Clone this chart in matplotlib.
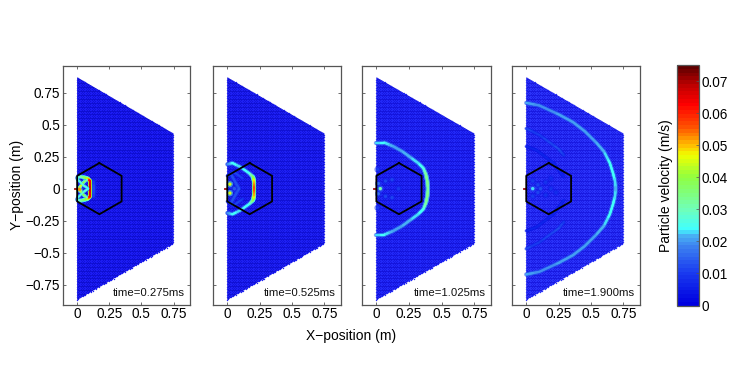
import numpy as np
import matplotlib
matplotlib.use("Agg")
import matplotlib.pyplot as plt
from matplotlib.collections import LineCollection
from matplotlib.colors import LinearSegmentedColormap, Normalize
from matplotlib.cm import ScalarMappable

plt.rcParams["font.family"] = ["Liberation Sans", "DejaVu Sans"]

W, H = 747, 386
GRAY = "#555555"

# plate outline and the hexagon inclusion (m)
plate_x = [0, 0.75, 0.75, 0, 0]
plate_y = [0.87, 0.43, -0.43, -0.87, 0.87]
hex_x = [0.173, 0.346, 0.346, 0.173, 0, 0, 0.173]
hex_y = [0.2, 0.1, -0.1, -0.2, -0.1, 0.1, 0.2]

x_ticks = [0, 0.25, 0.5, 0.75]
x_labels = ["0", "0.25", "0.5", "0.75"]
y_ticks = [-0.75, -0.5, -0.25, 0, 0.25, 0.5, 0.75]
y_labels = ["\u22120.75", "\u22120.5", "\u22120.25", "0", "0.25", "0.5", "0.75"]
cbar_ticks = [0, 0.01, 0.02, 0.03, 0.04, 0.05, 0.06, 0.07]
cbar_labels = ["0", "0.01", "0.02", "0.03", "0.04", "0.05", "0.06", "0.07"]

times = ["time=0.275ms", "time=0.525ms", "time=1.025ms", "time=1.900ms"]
panel_left = [63, 213, 362, 512]
panel_right = [190, 341, 491, 640]
plate_fill = ["#0c0ccc", "#0e0ed0", "#1212d8", "#1616de"]
plate_dots = ["#1c1cf4", "#1e20f4", "#2228f8", "#2a32fa"]

# colour bar: velocity -> colour
cmap_v = [0, 0.01, 0.018, 0.0215, 0.0235, 0.03, 0.04, 0.047, 0.05, 0.056, 0.063, 0.069, 0.075]
cmap_c = ["#0000e0", "#1a3cf0", "#3c80f0", "#48b0f4", "#40ffff", "#70ffb8", "#90ff40",
          "#f0ff00", "#ffc000", "#ff5000", "#ff0000", "#c00000", "#600000"]

# wave fronts, upper half only (mirrored about y=0): x, y, velocity
front1_x = [0.0, 0.03, 0.08, 0.1, 0.1]
front1_y = [0.085, 0.094, 0.08, 0.06, 0.0]
front1_v = [0.024, 0.03, 0.042, 0.063, 0.066]
inner1_x = [0.012, 0.05, 0.078]
inner1_y = [0.0, 0.05, 0.07]
inner1_v = [0.052, 0.038, 0.03]
inner1b_x = [0.0, 0.05, 0.088]
inner1b_y = [0.075, 0.025, 0.0]
inner1b_v = [0.024, 0.028, 0.024]
halo1_x = [0.125, 0.125]
halo1_y = [0.06, 0.0]
halo1_v = [0.009, 0.012]

front2_x = [0.0, 0.04, 0.1, 0.17, 0.2, 0.207, 0.207]
front2_y = [0.19, 0.2, 0.17, 0.12, 0.09, 0.05, 0.0]
front2_v = [0.018, 0.024, 0.023, 0.024, 0.036, 0.05, 0.057]
inner2_x = [0.03, 0.09, 0.03]
inner2_y = [0.11, 0.0, -0.11]
inner2_v = [0.012, 0.013, 0.012]
inner2b_x = [0.0, 0.05, 0.12]
inner2b_y = [0.1, 0.13, 0.08]
inner2b_v = [0.01, 0.012, 0.01]

front3_x = [0.0, 0.06, 0.13, 0.2, 0.26, 0.32, 0.36, 0.38, 0.39, 0.395]
front3_y = [0.36, 0.36, 0.33, 0.29, 0.245, 0.2, 0.16, 0.11, 0.06, 0.0]
front3_v = [0.0225, 0.024, 0.021, 0.021, 0.022, 0.023, 0.025, 0.032, 0.034, 0.032]

front4_x = [0.0, 0.1, 0.25, 0.36, 0.45, 0.54, 0.6, 0.645, 0.67, 0.685, 0.69]
front4_y = [0.67, 0.65, 0.58, 0.52, 0.45, 0.36, 0.29, 0.2, 0.12, 0.06, 0.0]
front4_v = [0.0215, 0.019, 0.02, 0.02, 0.02, 0.021, 0.022, 0.024, 0.0245, 0.023, 0.022]
arc4_x = [0.0, 0.1, 0.25, 0.29]
arc4_y = [0.47, 0.42, 0.31, 0.26]
arc4_v = [0.011, 0.01, 0.012, 0.01]
arc4b_x = [0.29, 0.21, 0.08, 0.0]
arc4b_y = [0.09, 0.2, 0.3, 0.33]
arc4b_v = [0.007, 0.007, 0.007, 0.007]

# bright interior spots: x, y, velocity
spots1_x = [0.018]
spots1_y = [0.0]
spots1_v = [0.052]
spots2_x = [0.02, 0.02, 0.055]
spots2_y = [0.035, -0.035, 0.0]
spots2_v = [0.045, 0.045, 0.014]
spots3_x = [0.03, 0.015, 0.015, 0.07, 0.07, 0.12, 0.12, 0.17, 0.01, 0.01]
spots3_y = [0.0, 0.04, -0.04, 0.06, -0.06, 0.07, -0.07, 0.0, 0.15, -0.15]
spots3_v = [0.031, 0.016, 0.016, 0.011, 0.011, 0.011, 0.011, 0.01, 0.01, 0.01]
spots4_x = [0.05, 0.09, 0.09, 0.11, 0.15, 0.15, 0.19, 0.19, 0.23, 0.05, 0.05]
spots4_y = [0.0, 0.03, -0.03, 0.0, 0.05, -0.05, 0.0, 0.08, -0.03, 0.06, -0.06]
spots4_v = [0.023, 0.011, 0.011, 0.012, 0.009, 0.009, 0.009, 0.008, 0.008, 0.01, 0.01]

panels = [
    ([(halo1_x, halo1_y, halo1_v, 2.0), (front1_x, front1_y, front1_v, 1.5),
      (inner1_x, inner1_y, inner1_v, 1.2), (inner1b_x, inner1b_y, inner1b_v, 1.2)],
     (spots1_x, spots1_y, spots1_v)),
    ([(front2_x, front2_y, front2_v, 1.5), (inner2_x, inner2_y, inner2_v, 1.4),
      (inner2b_x, inner2b_y, inner2b_v, 1.2)], (spots2_x, spots2_y, spots2_v)),
    ([(front3_x, front3_y, front3_v, 1.6)], (spots3_x, spots3_y, spots3_v)),
    ([(front4_x, front4_y, front4_v, 1.6), (arc4_x, arc4_y, arc4_v, 1.3),
      (arc4b_x, arc4b_y, arc4b_v, 1.2)], (spots4_x, spots4_y, spots4_v)),
]

norm = Normalize(0, 0.075)
jet = LinearSegmentedColormap.from_list(
    "bar", [(v / 0.075, c) for v, c in zip(cmap_v, cmap_c)], N=64)


def px_axes(fig, left, right, top=66, bottom=304.5):
    return fig.add_axes([left / W, 1 - bottom / H, (right - left) / W, (bottom - top) / H])


def draw_front(ax, xs, ys, vs, lw):
    # sub-divide so the colour blends along the front
    t = np.arange(len(xs))
    tt = np.linspace(0, len(xs) - 1, 12 * (len(xs) - 1) + 1)
    px, py, pv = np.interp(tt, t, xs), np.interp(tt, t, ys), np.interp(tt, t, vs)
    for sign in (1, -1):
        pts = np.column_stack([px, sign * py])
        segs = np.stack([pts[:-1], pts[1:]], axis=1)
        mid = (pv[:-1] + pv[1:]) / 2
        # soft halo, then the core
        ax.add_collection(LineCollection(segs, colors=jet(norm(mid * 0.65)), lw=lw * 2.0,
                                         alpha=0.55, capstyle="round", zorder=3))
        ax.add_collection(LineCollection(segs, colors=jet(norm(mid)), lw=lw,
                                         capstyle="round", zorder=4))


fig = plt.figure(figsize=(W / 100, H / 100), dpi=100)

# hex-packed node positions for the plate
row_y = np.arange(-0.87, 0.8701, 0.0105)
nodes_x, nodes_y = [], []
for i, yy in enumerate(row_y):
    limit = 0.75 if abs(yy) <= 0.43 else 0.75 * (0.87 - abs(yy)) / 0.44
    cols = np.arange(0.0065 * (i % 2), limit + 1e-6, 0.013)
    nodes_x.extend(cols)
    nodes_y.extend([yy] * len(cols))

for n, (fronts, spots) in enumerate(panels):
    ax = px_axes(fig, panel_left[n], panel_right[n])
    ax.fill(plate_x, plate_y, color=plate_fill[n], lw=0, zorder=1)
    ax.scatter(nodes_x, nodes_y, s=1.0, color=plate_dots[n], lw=0, zorder=2)

    for xs, ys, vs, lw in fronts:
        draw_front(ax, xs, ys, vs, lw)
    ax.scatter(spots[0], spots[1], s=22, c=np.array(spots[2]) * 0.6, cmap=jet, norm=norm,
               lw=0, alpha=0.5, zorder=5)
    ax.scatter(spots[0], spots[1], s=6, c=spots[2], cmap=jet, norm=norm, lw=0, zorder=5)

    # source marker just left of the plate
    ax.plot([-0.015, 0.0], [0, 0], color="#a01010", lw=1.3, zorder=6)
    ax.plot(hex_x, hex_y, color="black", lw=1.3, zorder=7)

    ax.set_xlim(-0.11, 0.878)
    ax.set_ylim(-0.905, 0.958)
    ax.set_xticks(x_ticks, x_labels)
    ax.set_yticks(y_ticks, y_labels if n == 0 else [])
    ax.tick_params(direction="in", length=2.5, width=0.6, color=GRAY,
                   labelsize=9.8, pad=2, top=True, right=True)
    for s in ax.spines.values():
        s.set_color(GRAY)
        s.set_linewidth(0.9)
    ax.text(0.962, 0.048, times[n], transform=ax.transAxes, ha="right", va="center",
            fontsize=8.2, color="#111111", zorder=8)

    if n == 0:
        ax.set_ylabel("Y\u2212position (m)", fontsize=10, labelpad=1)

fig.text(351 / W, 1 - 336 / H, "X\u2212position (m)", fontsize=10, ha="center", va="center")

# colorbar
cax = px_axes(fig, 677, 698.5, top=65, bottom=305.5)
cb = fig.colorbar(ScalarMappable(norm=norm, cmap=jet), cax=cax)
cb.set_ticks(cbar_ticks, labels=cbar_labels)
cb.ax.tick_params(direction="in", length=2, width=0.5, color=GRAY, labelsize=9.8, pad=2)
cb.outline.set_edgecolor(GRAY)
cb.outline.set_linewidth(0.9)
cb.set_label("Particle velocity (m/s)", fontsize=10)
cb.ax.yaxis.set_label_position("left")
cb.ax.yaxis.labelpad = 3

fig.savefig("out.png", dpi=100)
